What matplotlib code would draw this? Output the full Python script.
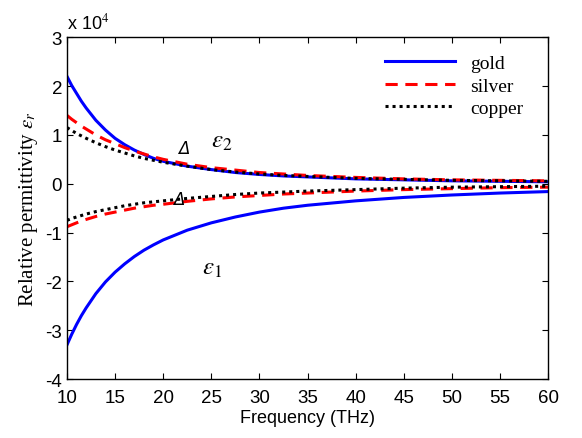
import matplotlib
matplotlib.use("Agg")
import matplotlib.pyplot as plt
import numpy as np

plt.rcParams['mathtext.fontset'] = 'stix'
plt.rcParams['axes.unicode_minus'] = False

# frequency samples (THz)
freq = [10, 10.5, 11, 11.5, 12, 13, 14, 15, 16, 17, 18, 19, 20, 22.5, 25, 27.5, 30, 32.5, 35, 40, 45, 50, 55, 60]

# real part (x 10^4)
gold_e1 = [-3.3, -3.08, -2.88, -2.7, -2.54, -2.25, -2.01, -1.81, -1.64, -1.49, -1.36, -1.25, -1.15, -0.95, -0.8, -0.68, -0.58, -0.5, -0.44, -0.35, -0.28, -0.23, -0.19, -0.16]
silver_e1 = [-0.88, -0.84, -0.8, -0.76, -0.73, -0.67, -0.62, -0.58, -0.54, -0.5, -0.47, -0.44, -0.42, -0.36, -0.31, -0.27, -0.24, -0.21, -0.19, -0.15, -0.12, -0.1, -0.08, -0.07]
copper_e1 = [-0.75, -0.71, -0.68, -0.65, -0.62, -0.57, -0.53, -0.49, -0.45, -0.42, -0.39, -0.37, -0.35, -0.3, -0.26, -0.22, -0.19, -0.17, -0.15, -0.12, -0.09, -0.07, -0.06, -0.05]

# imaginary part (x 10^4)
gold_e2 = [2.2, 2.01, 1.85, 1.69, 1.55, 1.3, 1.1, 0.93, 0.8, 0.69, 0.6, 0.52, 0.46, 0.36, 0.29, 0.23, 0.19, 0.16, 0.14, 0.1, 0.08, 0.06, 0.05, 0.04]
silver_e2 = [1.4, 1.32, 1.25, 1.18, 1.12, 1.0, 0.9, 0.82, 0.74, 0.67, 0.61, 0.55, 0.5, 0.4, 0.33, 0.28, 0.23, 0.2, 0.17, 0.13, 0.1, 0.08, 0.07, 0.06]
copper_e2 = [1.15, 1.09, 1.03, 0.98, 0.93, 0.84, 0.76, 0.69, 0.63, 0.57, 0.52, 0.48, 0.44, 0.36, 0.29, 0.24, 0.2, 0.17, 0.15, 0.11, 0.09, 0.07, 0.06, 0.05]

fig = plt.figure(figsize=(5.82, 4.39), dpi=100)
ax = fig.add_axes([0.115, 0.134, 0.827, 0.779])

ax.plot(freq, gold_e1, color='blue', lw=2.2, label='gold')
ax.plot(freq, silver_e1, color='red', lw=2.2, ls=(0, (4, 2.5)), label='silver')
ax.plot(freq, copper_e1, color='black', lw=2.2, ls=(0, (1, 1.3)), label='copper')
ax.plot(freq, gold_e2, color='blue', lw=2.2)
ax.plot(freq, silver_e2, color='red', lw=2.2, ls=(0, (4, 2.5)))
ax.plot(freq, copper_e2, color='black', lw=2.2, ls=(0, (1, 1.3)))

ax.set_xlim(10, 60)
ax.set_ylim(-4, 3)
ax.set_xticks(np.arange(10, 61, 5))
ax.set_yticks(np.arange(-4, 4, 1))
ax.tick_params(direction='in', top=True, right=True, length=4, labelsize=13.5)
ax.tick_params(axis='x', pad=7)
for lab in ax.get_xticklabels() + ax.get_yticklabels():
    lab.set_family('Liberation Sans')
for s in ax.spines.values():
    s.set_linewidth(1.0)

ax.set_xlabel('Frequency (THz)', family='Liberation Sans', fontsize=13, labelpad=2)
ax.set_ylabel(r'Relative permittivity $\varepsilon_r$', family='Liberation Serif', fontsize=15)
ax.text(0, 1.015, r'x 10$^4$', transform=ax.transAxes, family='Liberation Sans',
        fontsize=13, ha='left', va='bottom')

ax.text(25.0, 0.75, r'$\varepsilon_2$', fontsize=18)
ax.text(24.0, -1.85, r'$\varepsilon_1$', fontsize=18)
ax.text(21.5, 0.62, 'Δ', fontstyle='italic', family='DejaVu Sans', fontsize=12)
ax.text(21.0, -0.42, 'Δ', fontstyle='italic', family='DejaVu Sans', fontsize=12)

leg = ax.legend(loc='upper right', frameon=False, prop={'family': 'Liberation Serif', 'size': 14},
                handlelength=3.6, labelspacing=0.25, bbox_to_anchor=(0.985, 1.0))

fig.savefig('out.png', dpi=100)
